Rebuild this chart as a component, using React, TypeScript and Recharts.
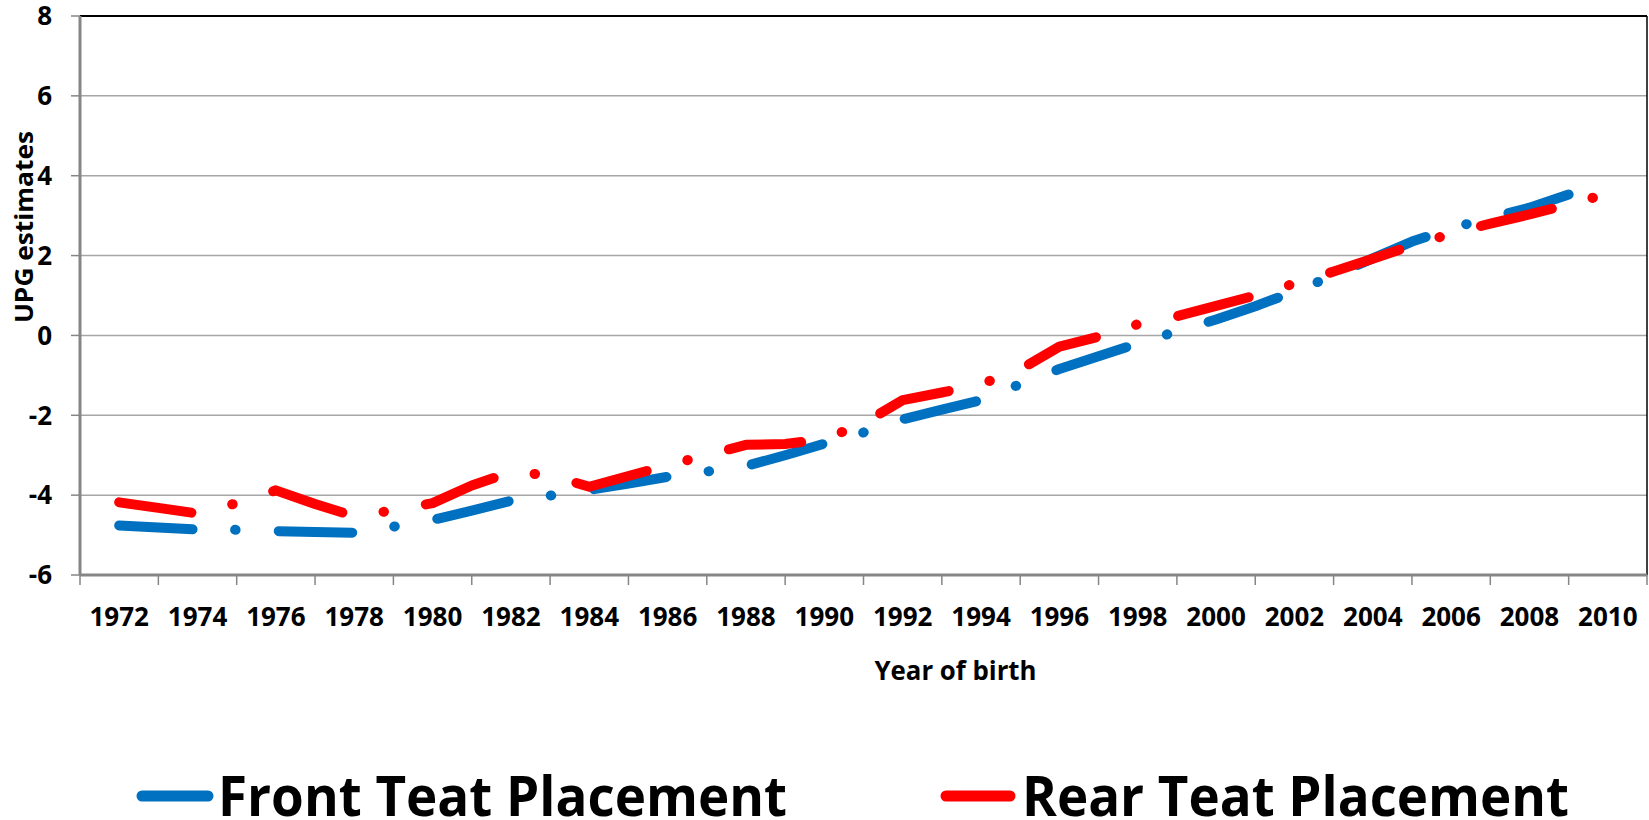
import React from 'react';
import { LineChart, Line, XAxis, YAxis, CartesianGrid, Legend, ReferenceLine } from 'recharts';

// year of birth, one point per year
const years = [
  1972, 1973, 1974, 1975, 1976, 1977, 1978, 1979, 1980, 1981,
  1982, 1983, 1984, 1985, 1986, 1987, 1988, 1989, 1990, 1991,
  1992, 1993, 1994, 1995, 1996, 1997, 1998, 1999, 2000, 2001,
  2002, 2003, 2004, 2005, 2006, 2007, 2008, 2009, 2010,
];

// UPG estimates, front teat placement (no 2010 value)
const frontTeat = [
  -4.76, -4.81, -4.86, -4.87, -4.9, -4.92, -4.94, -4.79, -4.62, -4.39,
  -4.14, -4.01, -3.87, -3.71, -3.54, -3.41, -3.27, -3.0, -2.71, -2.43,
  -2.1, -1.86, -1.62, -1.22, -0.84, -0.52, -0.2, 0.1, 0.4, 0.73,
  1.1, 1.5, 1.93, 2.35, 2.68, 2.95, 3.2, 3.53,
];

// UPG estimates, rear teat placement
const rearTeat = [
  -4.18, -4.32, -4.46, -4.2, -3.88, -4.22, -4.53, -4.38, -4.2, -3.76,
  -3.42, -3.5, -3.79, -3.52, -3.25, -3.0, -2.74, -2.72, -2.6, -2.2,
  -1.62, -1.43, -1.22, -0.85, -0.28, -0.03, 0.28, 0.48, 0.74, 1.0,
  1.3, 1.6, 1.92, 2.25, 2.55, 2.8, 3.03, 3.28, 3.55,
];

// tick marks sit between the labelled years
const xTickYears = [
  1971, 1973, 1975, 1977, 1979, 1981, 1983, 1985, 1987, 1989, 1991,
  1993, 1995, 1997, 1999, 2001, 2003, 2005, 2007, 2009, 2011,
];
const yTicks = [-6, -4, -2, 0, 2, 4, 6, 8];

const data = years.map((year, i) => ({
  year,
  front: i < frontTeat.length ? frontTeat[i] : null,
  rear: rearTeat[i],
}));

const W = 1649;
const H = 820;
const FONT = '"Open Sans", sans-serif';
const YEAR_PX = (1647 - 80) / 40;

const XTick = (props: any) => {
  const { x, y, payload } = props;
  if (payload.value >= 2011) return null;
  return (
    <text
      x={x + YEAR_PX}
      y={y + 39}
      textAnchor="middle"
      fontFamily={FONT}
      fontWeight={700}
      fontSize={26}
      fill="#000"
    >
      {payload.value + 1}
    </text>
  );
};

const legendIcon = [[142, 208], [946, 1010]];
const legendText = [[218, 569], [1022, 547]];

const renderLegend = (props: any) => {
  const { payload } = props;
  return (
    <svg width={W} height={60} style={{ display: 'block' }}>
      {payload.map((entry: any, i: number) => (
        <g key={entry.value}>
          <line
            x1={legendIcon[i][0]}
            x2={legendIcon[i][1]}
            y1={36}
            y2={36}
            stroke={entry.color}
            strokeWidth={11}
            strokeLinecap="round"
          />
          <text
            x={legendText[i][0]}
            y={56}
            textLength={legendText[i][1]}
            lengthAdjust="spacingAndGlyphs"
            fontFamily={FONT}
            fontWeight={700}
            fontSize={55}
            fill="#000"
          >
            {entry.value}
          </text>
        </g>
      ))}
    </svg>
  );
};

export default function App() {
  return (
    <div style={{ position: 'absolute', left: 0, top: 0, width: W, height: H, background: '#fff' }}>
      <LineChart
        width={W}
        height={H}
        data={data}
        margin={{ top: 16, right: 2, left: 0, bottom: 185 }}
      >
        <CartesianGrid vertical={false} stroke="#a6a6a6" strokeWidth={1.5} />
        <XAxis
          dataKey="year"
          type="number"
          domain={[1971, 2011]}
          ticks={xTickYears}
          interval={0}
          height={60}
          tickSize={10}
          tick={<XTick />}
          axisLine={{ stroke: '#868686', strokeWidth: 3 }}
          tickLine={{ stroke: '#868686', strokeWidth: 1.5 }}
          label={{
            content: () => (
              <text
                x={955.5}
                y={680}
                textAnchor="middle"
                textLength={162}
                lengthAdjust="spacingAndGlyphs"
                fontFamily={FONT}
                fontWeight={700}
                fontSize={27}
                fill="#000"
              >
                Year of birth
              </text>
            ),
          }}
        />
        <YAxis
          type="number"
          domain={[-6, 8]}
          ticks={yTicks}
          interval={0}
          width={80}
          tickSize={9}
          tickMargin={19}
          tick={{ fill: '#000', fontFamily: FONT, fontWeight: 700, fontSize: 26 }}
          axisLine={{ stroke: '#868686', strokeWidth: 3 }}
          tickLine={{ stroke: '#868686', strokeWidth: 1.5 }}
          label={{
            content: () => (
              <text
                x={33}
                y={227}
                transform="rotate(-90 33 227)"
                textAnchor="middle"
                textLength={192}
                lengthAdjust="spacingAndGlyphs"
                fontFamily={FONT}
                fontWeight={700}
                fontSize={25}
                fill="#000"
              >
                UPG estimates
              </text>
            ),
          }}
        />
        <ReferenceLine y={8} stroke="#000" strokeWidth={2} />
        <ReferenceLine x={2011} stroke="#000" strokeWidth={1.5} />
        <Legend
          content={renderLegend}
          layout="horizontal"
          verticalAlign="middle"
          align="center"
          wrapperStyle={{ position: 'absolute', left: 0, top: 760, width: W, height: 60 }}
        />
        <Line
          name="Front Teat Placement"
          dataKey="front"
          stroke="#0070c0"
          strokeWidth={10}
          strokeLinecap="round"
          strokeLinejoin="round"
          strokeDasharray="73.5 42.5 0.5 43.2"
          dot={false}
          activeDot={false}
          isAnimationActive={false}
        />
        <Line
          name="Rear Teat Placement"
          dataKey="rear"
          stroke="#ff0000"
          strokeWidth={10}
          strokeLinecap="round"
          strokeLinejoin="round"
          strokeDasharray="73 42 0.5 42.5"
          dot={false}
          activeDot={false}
          isAnimationActive={false}
        />
      </LineChart>
    </div>
  );
}
